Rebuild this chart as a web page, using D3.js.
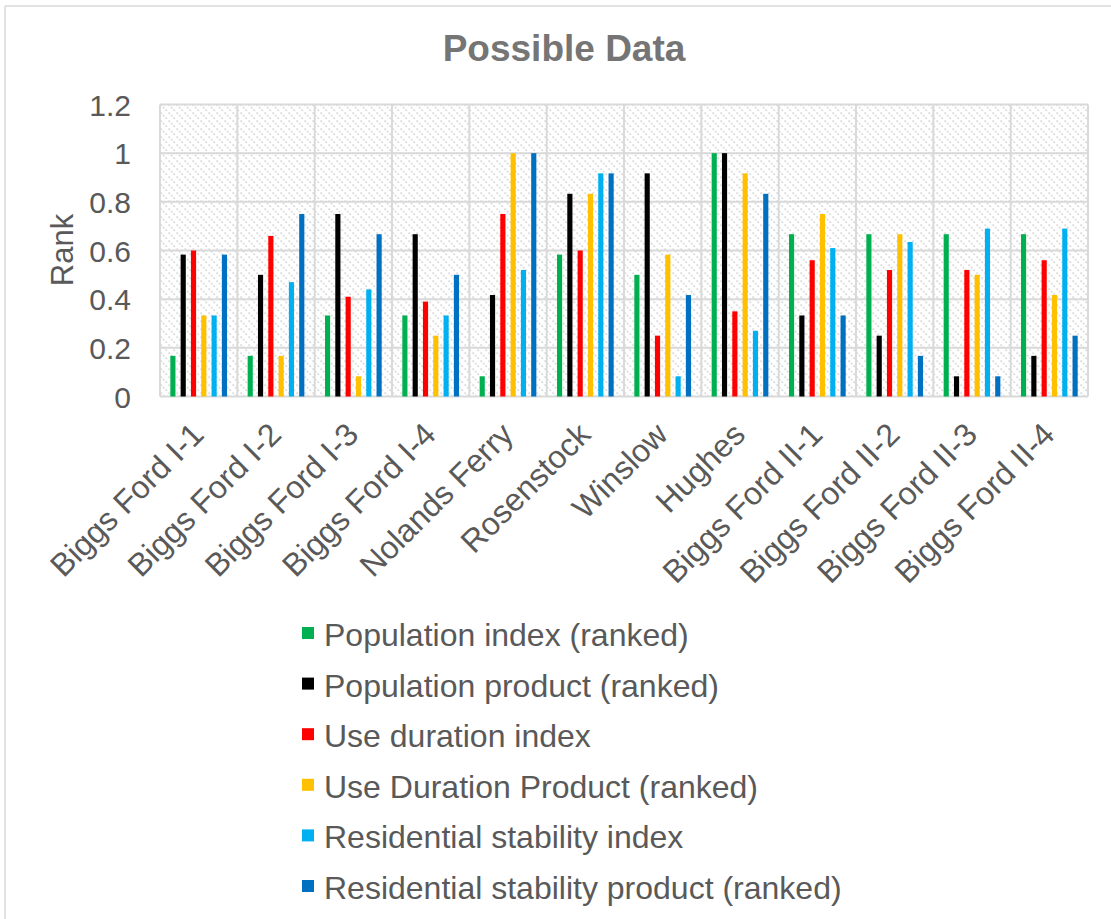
<!DOCTYPE html>
<html>
<head>
<meta charset="utf-8">
<script src="https://cdn.jsdelivr.net/npm/d3@7"></script>
<style>
  html, body { margin: 0; padding: 0; background: #fff; }
  svg { display: block; font-family: "Liberation Sans", Arial, sans-serif; }
</style>
</head>
<body>
<svg id="chart" width="1111" height="919"></svg>
<script>
// Sites along the x axis
const categories = ["Biggs Ford I-1", "Biggs Ford I-2", "Biggs Ford I-3", "Biggs Ford I-4",
  "Nolands Ferry", "Rosenstock", "Winslow", "Hughes",
  "Biggs Ford II-1", "Biggs Ford II-2", "Biggs Ford II-3", "Biggs Ford II-4"];

const seriesNames = ["Population index (ranked)", "Population product (ranked)", "Use duration index",
  "Use Duration Product (ranked)", "Residential stability index", "Residential stability product (ranked)"];

const seriesColors = ["#00B050", "#000000", "#FF0000", "#FFC000", "#00B0F0", "#0070C0"];

// Rank values per series, one entry per site
const populationIndex = [0.167, 0.167, 0.333, 0.333, 0.083, 0.583, 0.5, 1, 0.667, 0.667, 0.667, 0.667];
const populationProduct = [0.583, 0.5, 0.75, 0.667, 0.417, 0.833, 0.917, 1, 0.333, 0.25, 0.083, 0.167];
const useDurationIndex = [0.6, 0.66, 0.41, 0.39, 0.75, 0.6, 0.25, 0.35, 0.56, 0.52, 0.52, 0.56];
const useDurationProduct = [0.333, 0.167, 0.083, 0.25, 1, 0.833, 0.583, 0.917, 0.75, 0.667, 0.5, 0.417];
const residentialIndex = [0.333, 0.47, 0.44, 0.333, 0.52, 0.917, 0.083, 0.27, 0.61, 0.635, 0.69, 0.69];
const residentialProduct = [0.583, 0.75, 0.667, 0.5, 1, 0.917, 0.417, 0.833, 0.333, 0.167, 0.083, 0.25];

const yTicks = [0, 0.2, 0.4, 0.6, 0.8, 1, 1.2];

const seriesValues = [populationIndex, populationProduct, useDurationIndex,
  useDurationProduct, residentialIndex, residentialProduct];

const svg = d3.select("#chart");
const textColor = "#595959";
const gridColor = "#d9d9d9";

// Plot area bounds
const plot = { left: 160, right: 1088, top: 104.5, bottom: 396.5 };

// Chart-area frame (top and left edges visible)
svg.append("line").attr("x1", 5).attr("x2", 1111).attr("y1", 6).attr("y2", 6)
  .attr("stroke", gridColor).attr("stroke-width", 1.5);
svg.append("line").attr("x1", 5).attr("x2", 5).attr("y1", 6).attr("y2", 919)
  .attr("stroke", gridColor).attr("stroke-width", 1.5);

// Diagonal hatch fill for the plot area
const defs = svg.append("defs");
const pat = defs.append("pattern").attr("id", "hatch")
  .attr("patternUnits", "userSpaceOnUse").attr("width", 8).attr("height", 8);
pat.append("rect").attr("width", 8).attr("height", 8).attr("fill", "#ffffff");
pat.append("path").attr("d", "M-2,-2 L10,10 M-2,6 L2,10 M6,-2 L10,2")
  .attr("stroke", "#e0e0e0").attr("stroke-width", 2).attr("stroke-dasharray", "2,1.5");

svg.append("rect")
  .attr("x", plot.left).attr("y", plot.top)
  .attr("width", plot.right - plot.left).attr("height", plot.bottom - plot.top)
  .attr("fill", "url(#hatch)");

const x0 = d3.scaleBand().domain(categories).range([plot.left, plot.right]).paddingInner(0).paddingOuter(0);
const x1 = d3.scaleBand().domain(seriesNames).range([0, x0.bandwidth()]).paddingInner(0.5).paddingOuter(1);
const y = d3.scaleLinear().domain([0, 1.2]).range([plot.bottom, plot.top]);

// Horizontal gridlines
svg.append("g").selectAll("line").data(yTicks).join("line")
  .attr("x1", plot.left).attr("x2", plot.right)
  .attr("y1", d => y(d)).attr("y2", d => y(d))
  .attr("stroke", gridColor).attr("stroke-width", 2);

// Vertical gridlines at category boundaries
const boundaries = categories.map(c => x0(c)).concat([plot.right]);
svg.append("g").selectAll("line").data(boundaries).join("line")
  .attr("x1", d => d).attr("x2", d => d)
  .attr("y1", plot.top).attr("y2", plot.bottom)
  .attr("stroke", gridColor).attr("stroke-width", 2);

// Bars
const groups = svg.append("g").selectAll("g").data(categories).join("g")
  .attr("transform", d => `translate(${x0(d)},0)`);
groups.selectAll("rect")
  .data((c, ci) => seriesNames.map((s, si) => ({ s, si, v: seriesValues[si][ci] })))
  .join("rect")
  .attr("x", d => x1(d.s))
  .attr("width", x1.bandwidth())
  .attr("y", d => y(d.v))
  .attr("height", d => y(0) - y(d.v))
  .attr("fill", d => seriesColors[d.si]);

// Y axis labels
const yAxis = d3.axisLeft(y).tickValues(yTicks).tickSize(0).tickPadding(0)
  .tickFormat(d => d3.format("~g")(d));
const yg = svg.append("g").attr("transform", `translate(131,0)`).call(yAxis);
yg.select(".domain").remove();
yg.selectAll("text").attr("fill", textColor).attr("font-size", 30)
  .attr("font-family", "'Liberation Sans', Arial, sans-serif").attr("dy", "0.35em");

// X axis labels, rotated
const xAxis = d3.axisBottom(x0).tickSize(0).tickPadding(0);
const xg = svg.append("g").attr("transform", `translate(0,${plot.bottom})`).call(xAxis);
xg.select(".domain").remove();
xg.selectAll("text")
  .attr("fill", textColor).attr("font-size", 32)
  .attr("font-family", "'Liberation Sans', Arial, sans-serif")
  .attr("text-anchor", "end")
  .attr("dy", null).attr("y", 0)
  .attr("transform", "translate(7,40) rotate(-45)");

// Axis title
svg.append("text")
  .attr("transform", "translate(73,250) rotate(-90)")
  .attr("text-anchor", "middle")
  .attr("fill", textColor).attr("font-size", 31)
  .text("Rank");

// Chart title
svg.append("text")
  .attr("x", 564).attr("y", 61)
  .attr("text-anchor", "middle")
  .attr("fill", "#757575").attr("font-size", 37).attr("font-weight", "bold")
  .text("Possible Data");

// Legend
const legend = svg.append("g").selectAll("g").data(seriesNames).join("g")
  .attr("transform", (d, i) => `translate(302,${646 + i * 50.6})`);
legend.append("rect")
  .attr("x", 0).attr("y", -19).attr("width", 12).attr("height", 12)
  .attr("fill", (d, i) => seriesColors[i]);
legend.append("text")
  .attr("x", 22).attr("y", 0)
  .attr("fill", textColor).attr("font-size", 32)
  .text(d => d);
</script>
</body>
</html>
